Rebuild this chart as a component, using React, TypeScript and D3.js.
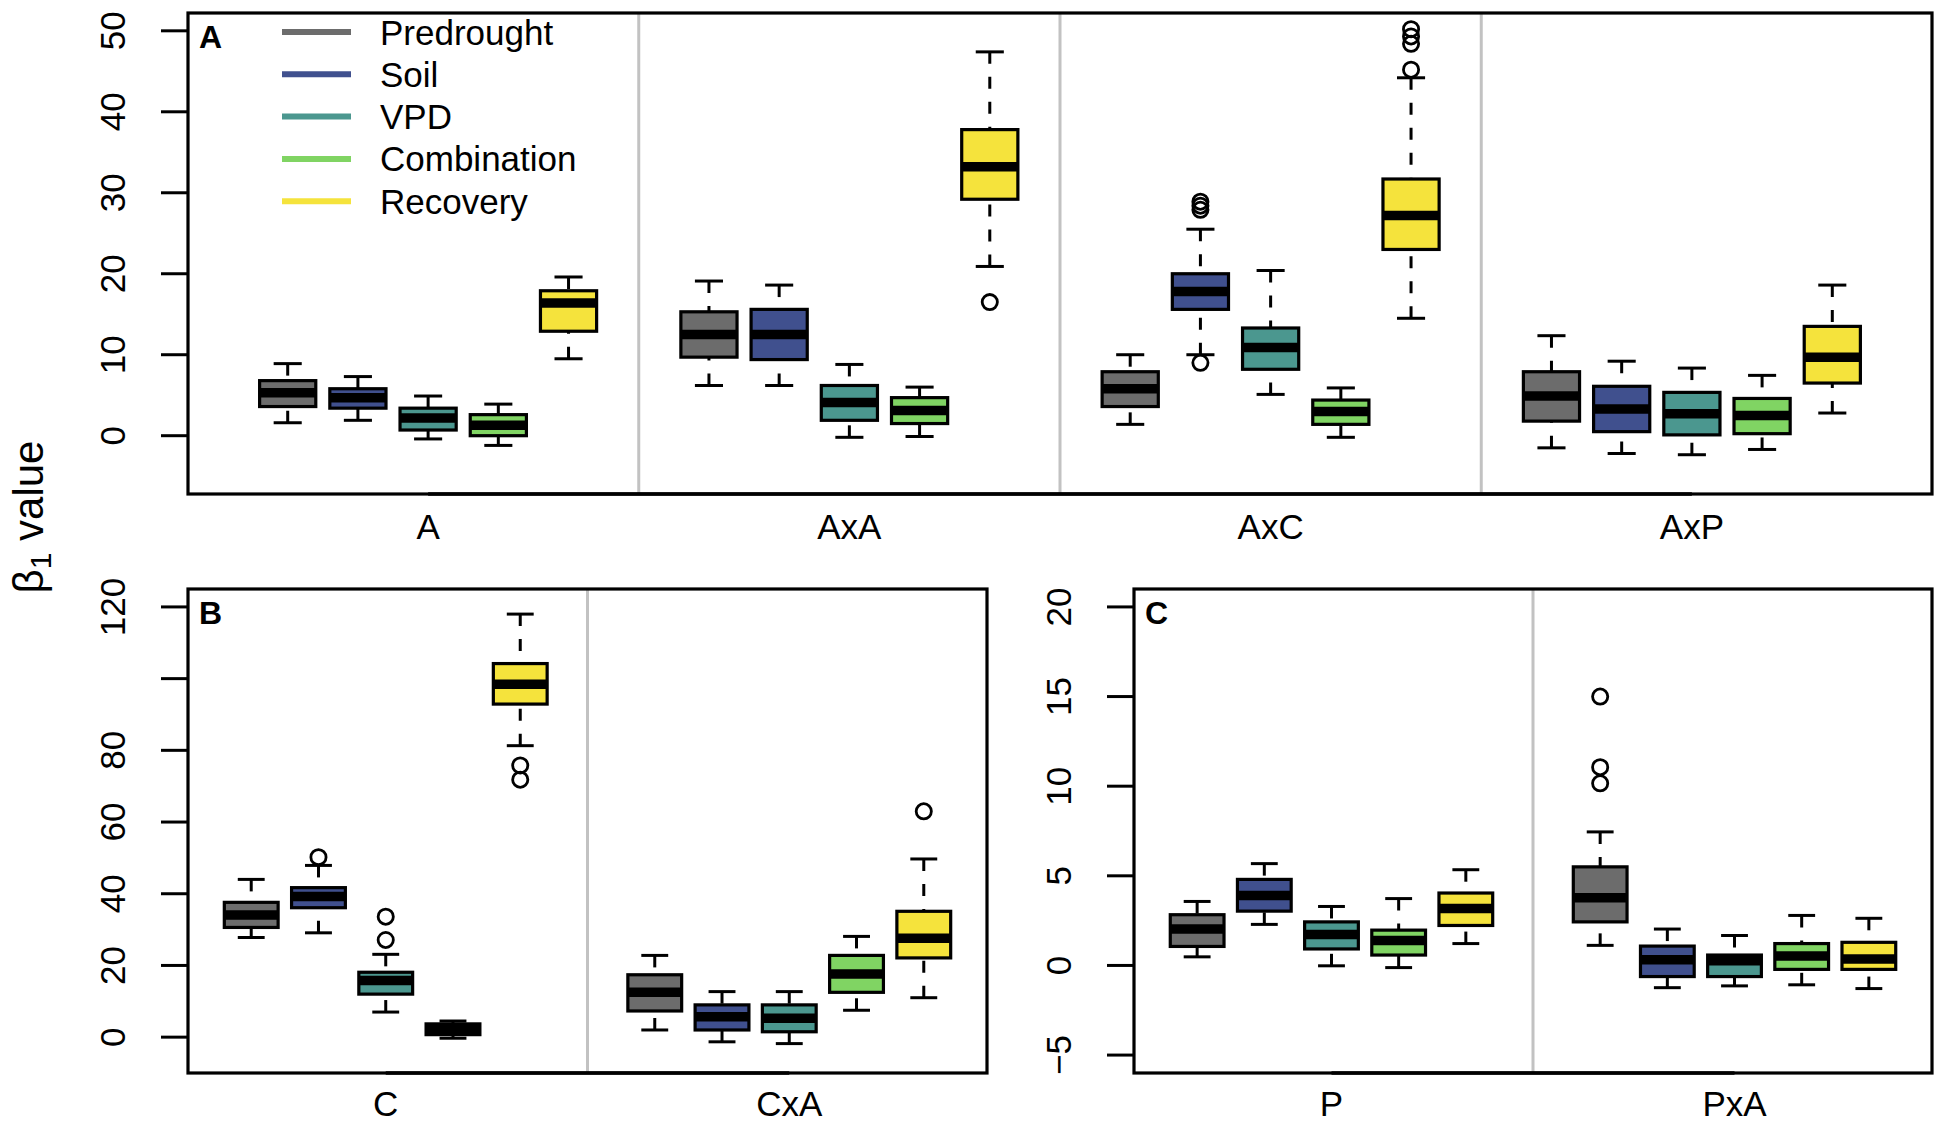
import React from "react";
import * as d3 from "d3";

// ---------- data ----------
const seriesNames = ["Predrought", "Soil", "VPD", "Combination", "Recovery"];
const seriesColors = ["#6c6c6c", "#40508e", "#4b978f", "#80d463", "#f5e33c"];

// stats per series: [lower whisker, Q1, median, Q3, upper whisker]
const groupsTop = ["A", "AxA", "AxC", "AxP"];
const statsA = [
  [1.6, 3.6, 5.3, 6.8, 8.9],
  [1.9, 3.4, 4.7, 5.8, 7.3],
  [-0.4, 0.7, 2.2, 3.4, 4.9],
  [-1.2, 0.0, 1.3, 2.6, 3.9],
  [9.5, 12.9, 16.4, 17.9, 19.6],
];
const outA = [[], [], [], [], []];
const statsAxA = [
  [6.2, 9.7, 12.5, 15.3, 19.1],
  [6.2, 9.4, 12.5, 15.6, 18.6],
  [-0.2, 1.9, 4.1, 6.2, 8.8],
  [-0.1, 1.5, 3.1, 4.7, 6.0],
  [20.9, 29.2, 33.2, 37.8, 47.4],
];
const outAxA = [[], [], [], [], [16.5]];
const statsAxC = [
  [1.4, 3.6, 5.8, 7.9, 10.0],
  [10.0, 15.6, 17.8, 20.0, 25.5],
  [5.1, 8.2, 10.9, 13.3, 20.4],
  [-0.2, 1.4, 3.0, 4.4, 5.9],
  [14.5, 23.0, 27.2, 31.7, 44.2],
];
const outAxC = [[], [28.9, 28.4, 27.9, 9.0], [], [], [50.2, 49.3, 48.4, 45.2]];
const statsAxP = [
  [-1.5, 1.8, 4.9, 7.9, 12.35],
  [-2.2, 0.5, 3.3, 6.1, 9.2],
  [-2.35, 0.1, 2.7, 5.35, 8.35],
  [-1.7, 0.25, 2.5, 4.6, 7.45],
  [2.8, 6.5, 9.7, 13.5, 18.6],
];
const outAxP = [[], [], [], [], []];

const groupsB = ["C", "CxA"];
const statsC = [
  [27.8, 30.6, 34.1, 37.6, 44.0],
  [29.1, 36.1, 39.2, 41.7, 47.9],
  [7.0, 12.0, 15.8, 18.1, 23.1],
  [-0.3, 0.7, 2.2, 3.7, 4.5],
  [81.3, 92.9, 98.4, 104.2, 118.0],
];
const outC = [[], [50.2], [33.6, 27.1], [], [75.8, 71.8]];
const statsCxA = [
  [2.0, 7.3, 12.5, 17.4, 22.8],
  [-1.3, 2.0, 5.7, 9.0, 12.7],
  [-1.8, 1.5, 5.3, 9.0, 12.7],
  [7.5, 12.5, 17.6, 22.8, 28.1],
  [11.0, 22.1, 27.6, 35.1, 49.7],
];
const outCxA = [[], [], [], [], [63.0]];

const groupsC = ["P", "PxA"];
const statsP = [
  [0.48, 1.06, 2.03, 2.83, 3.57],
  [2.29, 3.03, 3.9, 4.8, 5.68],
  [-0.02, 0.92, 1.73, 2.43, 3.29],
  [-0.12, 0.58, 1.39, 1.97, 3.73],
  [1.22, 2.23, 3.17, 4.04, 5.34],
];
const outP = [[], [], [], [], []];
const statsPxA = [
  [1.12, 2.43, 3.78, 5.5, 7.45],
  [-1.24, -0.62, 0.32, 1.08, 2.03],
  [-1.14, -0.62, 0.26, 0.58, 1.67],
  [-1.08, -0.22, 0.52, 1.22, 2.79],
  [-1.29, -0.22, 0.36, 1.29, 2.63],
];
const outPxA = [[15.0, 11.06, 10.16], [], [], [], []];

const ticksTop = [0, 10, 20, 30, 40, 50];
const ticksB = [0, 20, 40, 60, 80, 100, 120];
const tickLabelsB = ["0", "20", "40", "60", "80", "", "120"];
const ticksC = [-5, 0, 5, 10, 15, 20];
const tickLabelsC = ["\u22125", "0", "5", "10", "15", "20"];

// ---------- layout ----------
const W = 1950;
const H = 1122;
const FONT = "'Liberation Sans', Arial, Helvetica, sans-serif";

type Panel = {
  letter: string;
  left: number;
  right: number;
  top: number;
  bottom: number;
  yDomain: [number, number];
  ticks: number[];
  tickLabels: string[];
  groups: string[];
  stats: number[][][];
  outs: number[][][];
  labelY: number;
};

const panels: Panel[] = [
  {
    letter: "A", left: 188, right: 1932, top: 13, bottom: 494,
    yDomain: [-7.2, 52.2], ticks: ticksTop, tickLabels: ticksTop.map(String),
    groups: groupsTop, stats: [statsA, statsAxA, statsAxC, statsAxP],
    outs: [outA, outAxA, outAxC, outAxP], labelY: 539,
  },
  {
    letter: "B", left: 188, right: 987, top: 589, bottom: 1073,
    yDomain: [-10, 125], ticks: ticksB, tickLabels: tickLabelsB,
    groups: groupsB, stats: [statsC, statsCxA], outs: [outC, outCxA], labelY: 1116,
  },
  {
    letter: "C", left: 1134, right: 1932, top: 589, bottom: 1073,
    yDomain: [-6, 21], ticks: ticksC, tickLabels: tickLabelsC,
    groups: groupsC, stats: [statsP, statsPxA], outs: [outP, outPxA], labelY: 1116,
  },
];

function PanelView({ p }: { p: Panel }) {
  const n = p.groups.length * 6 - 1;
  const x = d3.scaleLinear().domain([0.5 - 0.04 * n, n + 0.5 + 0.04 * n]).range([p.left, p.right]);
  const y = d3.scaleLinear().domain(p.yDomain).range([p.bottom, p.top]);
  const unit = x(1) - x(0);
  const bw = unit * 0.8;
  const cw = bw * 0.5;
  const dividers = d3.range(1, p.groups.length).map((g) => g * 6);
  const items: JSX.Element[] = [];
  p.groups.forEach((g, gi) => {
    p.stats[gi].forEach((s, si) => {
      const cx = x(gi * 6 + si + 1);
      const [lo, q1, med, q3, hi] = s;
      const key = `${gi}-${si}`;
      items.push(
        <g key={key}>
          <line x1={cx} x2={cx} y1={y(lo)} y2={y(q1)} stroke="#000" strokeWidth={3} strokeDasharray="12,13" />
          <line x1={cx} x2={cx} y1={y(hi)} y2={y(q3)} stroke="#000" strokeWidth={3} strokeDasharray="12,13" />
          <line x1={cx - cw / 2} x2={cx + cw / 2} y1={y(lo)} y2={y(lo)} stroke="#000" strokeWidth={3} />
          <line x1={cx - cw / 2} x2={cx + cw / 2} y1={y(hi)} y2={y(hi)} stroke="#000" strokeWidth={3} />
          <rect x={cx - bw / 2} y={y(q3)} width={bw} height={y(q1) - y(q3)} fill={seriesColors[si]} stroke="#000" strokeWidth={3.2} />
          <line x1={cx - bw / 2} x2={cx + bw / 2} y1={y(med)} y2={y(med)} stroke="#000" strokeWidth={9.5} />
          {p.outs[gi][si].map((o, oi) => (
            <circle key={oi} cx={cx} cy={y(o)} r={7.6} fill="none" stroke="#000" strokeWidth={2.8} />
          ))}
        </g>
      );
    });
  });
  return (
    <g>
      {dividers.map((d) => (
        <line key={d} x1={x(d)} x2={x(d)} y1={p.top} y2={p.bottom} stroke="#c2c2c2" strokeWidth={3} />
      ))}
      {items}
      <rect x={p.left} y={p.top} width={p.right - p.left} height={p.bottom - p.top} fill="none" stroke="#000" strokeWidth={3.2} />
      <line x1={x(3)} x2={x(3 + (p.groups.length - 1) * 6)} y1={p.bottom} y2={p.bottom} stroke="#000" strokeWidth={3.6} />
      {p.ticks.map((t, i) => (
        <g key={t}>
          <line x1={p.left - 27} x2={p.left} y1={y(t)} y2={y(t)} stroke="#000" strokeWidth={3} />
          <text
            transform={`translate(${p.left - 63},${y(t)}) rotate(-90)`}
            textAnchor="middle"
            fontSize={35}
            fontFamily={FONT}
            fill="#000"
          >
            {p.tickLabels[i]}
          </text>
        </g>
      ))}
      {p.groups.map((g, gi) => (
        <text key={g} x={x(gi * 6 + 3)} y={p.labelY} textAnchor="middle" fontSize={35} fontFamily={FONT} fill="#000">
          {g}
        </text>
      ))}
      <text x={p.left + 11} y={p.top + 35} fontSize={32} fontWeight="bold" fontFamily={FONT} fill="#000">
        {p.letter}
      </text>
    </g>
  );
}

const legendX1 = 282;
const legendX2 = 351;
const legendTextX = 380;
const legendY0 = 32;
const legendDy = 42.3;

export default function App() {
  return (
    <svg
      width={W}
      height={H}
      viewBox={`0 0 ${W} ${H}`}
      style={{ position: "absolute", left: 0, top: 0, background: "#fff" }}
    >
      <rect x={0} y={0} width={W} height={H} fill="#fff" />
      {panels.map((p) => (
        <PanelView key={p.letter} p={p} />
      ))}
      {seriesNames.map((s, i) => (
        <g key={s}>
          <line
            x1={legendX1}
            x2={legendX2}
            y1={legendY0 + i * legendDy}
            y2={legendY0 + i * legendDy}
            stroke={seriesColors[i]}
            strokeWidth={6}
          />
          <text x={legendTextX} y={legendY0 + i * legendDy + 12.5} fontSize={35} fontFamily={FONT} fill="#000">
            {s}
          </text>
        </g>
      ))}
      <text
        transform="translate(43,517) rotate(-90)"
        textAnchor="middle"
        fontSize={42}
        fontFamily={FONT}
        fill="#000"
      >
        β<tspan fontSize={30} dy={8}>1</tspan>
        <tspan dy={-8}> value</tspan>
      </text>
    </svg>
  );
}
